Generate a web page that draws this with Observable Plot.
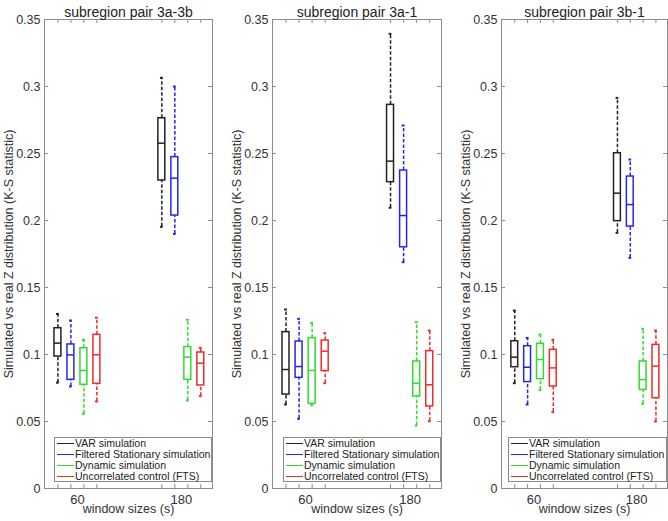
<!DOCTYPE html>
<html>
<head>
<meta charset="utf-8">
<script src="https://cdn.jsdelivr.net/npm/d3@7"></script>
<script src="https://cdn.jsdelivr.net/npm/@observablehq/plot@0.6"></script>
<style>
  html, body { margin: 0; padding: 0; background: #fff; }
  #row { display: flex; width: 668px; height: 521px; }
  .panel { position: relative; height: 521px; }
  .legend {
    position: absolute; box-sizing: border-box; height: 45px;
    border: 1px solid #8a8a8a; background: #fff;
    font-family: "Liberation Sans", Arial, sans-serif; font-size: 10.5px; color: #222;
    padding-top: 0px;
  }
  .legend .item { height: 10.9px; line-height: 10.9px; white-space: nowrap; display: flex; align-items: center; }
  .legend .sw { display: inline-block; width: 17px; height: 0; border-top: 1.5px solid; margin: 0 1px 0 2px; }
</style>
</head>
<body>
<div id="row"></div>
<script>
// ---- data ----
const windowSizes = [60, 180];
const seriesNames = ["VAR simulation", "Filtered Stationary simulation", "Dynamic simulation", "Uncorrelated control (FTS)"];
const seriesColors = ["#222222", "#2626e8", "#30dc30", "#ee2c2c"];
const panelTitles = ["subregion pair 3a-3b", "subregion pair 3a-1", "subregion pair 3b-1"];
const yTicks = [0, 0.05, 0.1, 0.15, 0.2, 0.25, 0.3, 0.35];
const yLabel = "Simulated vs real Z distribution (K-S statistic)";
const xLabel = "window sizes (s)";

// rows: [series index, window size, lower whisker, q1, median, q3, upper whisker]
const pair3a3b = [
  [0, 60, 0.0790, 0.0985, 0.1085, 0.1196, 0.1303],
  [1, 60, 0.0761, 0.0811, 0.0997, 0.1075, 0.1254],
  [2, 60, 0.0557, 0.0774, 0.0881, 0.1047, 0.1110],
  [3, 60, 0.0649, 0.0781, 0.0998, 0.1147, 0.1274],
  [0, 180, 0.1953, 0.2299, 0.2577, 0.2763, 0.3065],
  [1, 180, 0.1900, 0.2037, 0.2316, 0.2473, 0.3000],
  [2, 180, 0.0657, 0.0811, 0.0980, 0.1055, 0.1259],
  [3, 180, 0.0689, 0.0769, 0.0935, 0.1015, 0.1050]
];
const pair3a1 = [
  [0, 60, 0.0627, 0.0701, 0.0888, 0.1167, 0.1336],
  [1, 60, 0.0520, 0.0826, 0.0910, 0.1097, 0.1266],
  [2, 60, 0.0622, 0.0632, 0.0881, 0.1122, 0.1236],
  [3, 60, 0.0786, 0.0876, 0.1025, 0.1104, 0.1159],
  [0, 180, 0.2095, 0.2286, 0.2443, 0.2863, 0.3393],
  [1, 180, 0.1689, 0.1800, 0.2037, 0.2373, 0.2709],
  [2, 180, 0.0470, 0.0687, 0.0786, 0.0948, 0.1241],
  [3, 180, 0.0502, 0.0612, 0.0774, 0.1025, 0.1179]
];
const pair3b1 = [
  [0, 60, 0.0786, 0.0905, 0.0980, 0.1099, 0.1328],
  [1, 60, 0.0627, 0.0794, 0.0905, 0.1062, 0.1124],
  [2, 60, 0.0736, 0.0816, 0.0963, 0.1080, 0.1149],
  [3, 60, 0.0570, 0.0761, 0.0900, 0.1035, 0.1110],
  [0, 180, 0.1908, 0.1995, 0.2204, 0.2502, 0.2915],
  [1, 180, 0.1721, 0.1955, 0.2119, 0.2328, 0.2455],
  [2, 180, 0.0632, 0.0736, 0.0813, 0.0948, 0.1192],
  [3, 180, 0.0500, 0.0674, 0.0913, 0.1072, 0.1179]
];
const panelData = [pair3a3b, pair3a1, pair3b1];

// ---- layout ----
const layouts = [
  {width: 228, marginLeft: 44, marginRight: 16, legendLeft: 54},
  {width: 228, marginLeft: 44, marginRight: 15, legendLeft: 55},
  {width: 212, marginLeft: 45, marginRight: 1, legendLeft: 52}
];
const marginTop = 19, marginBottom = 33, H = 521;
const xDomain = [22, 216];
const groupStep = 15;      // spacing between boxes within a group (s)
const boxHalf = 4;         // half box width (s)
const capHalf = 1.6;       // half whisker-cap width (s)
const font = "'Liberation Sans', Arial, Helvetica, sans-serif";

const row = document.getElementById("row");

panelData.forEach((raw, pi) => {
  const L = layouts[pi];
  const fw = L.width - L.marginLeft - L.marginRight;
  const fh = H - marginTop - marginBottom;
  const rows = raw.map(([s, w, lo, q1, med, q3, hi]) => ({
    series: seriesNames[s], pos: w + (s - 1.5) * groupStep, lo, q1, med, q3, hi
  }));
  const tickPositions = rows.map(d => d.pos);
  const common = {stroke: "series", strokeWidth: 1.5};

  const chart = Plot.plot({
    width: L.width, height: H,
    marginLeft: L.marginLeft, marginRight: L.marginRight,
    marginTop, marginBottom,
    style: {fontFamily: font, fontSize: "12px", color: "#333", background: "#fff"},
    x: {type: "linear", domain: xDomain, axis: null},
    y: {domain: [0, 0.35], axis: null},
    color: {domain: seriesNames, range: seriesColors},
    marks: [
      Plot.frame({stroke: "#8c8c8c"}),
      // inward ticks
      Plot.tickY(yTicks, {y: d => d, insetRight: fw - 4, stroke: "#8c8c8c"}),
      Plot.tickY(yTicks, {y: d => d, insetLeft: fw - 4, stroke: "#8c8c8c"}),
      Plot.tickX(tickPositions, {x: d => d, insetBottom: fh - 4, stroke: "#8c8c8c"}),
      Plot.tickX(tickPositions, {x: d => d, insetTop: fh - 4, stroke: "#8c8c8c"}),
      // tick labels
      Plot.axisY(yTicks, {tickSize: 0, tickPadding: 4, fontSize: 12.5, fill: "#333",
        tickFormat: d => String(d), label: null}),
      Plot.axisX(windowSizes, {tickSize: 0, tickPadding: 6, fontSize: 13, fill: "#333",
        tickFormat: d => String(d), label: null}),
      // whiskers
      Plot.ruleX(rows, {x: "pos", y1: "lo", y2: "q1", ...common, strokeDasharray: "3.5,2"}),
      Plot.ruleX(rows, {x: "pos", y1: "q3", y2: "hi", ...common, strokeDasharray: "3.5,2"}),
      Plot.ruleY(rows, {y: "lo", x1: d => d.pos - capHalf, x2: d => d.pos + capHalf, stroke: "series", strokeWidth: 2}),
      Plot.ruleY(rows, {y: "hi", x1: d => d.pos - capHalf, x2: d => d.pos + capHalf, stroke: "series", strokeWidth: 2}),
      // boxes
      Plot.rect(rows, {x1: d => d.pos - boxHalf, x2: d => d.pos + boxHalf, y1: "q1", y2: "q3", ...common, fill: "none"}),
      Plot.ruleY(rows, {y: "med", x1: d => d.pos - boxHalf, x2: d => d.pos + boxHalf, ...common}),
      // texts
      Plot.text([panelTitles[pi]], {frameAnchor: "top", dy: -12, fontSize: 14, fill: "#222"}),
      Plot.text([xLabel], {frameAnchor: "bottom", dy: 24, fontSize: 12.5, fill: "#333"}),
      Plot.text([yLabel], {frameAnchor: "left", textAnchor: "middle", rotate: -90, dx: -36, fontSize: 12.5, fill: "#333"})
    ]
  });

  const panel = document.createElement("div");
  panel.className = "panel";
  panel.style.width = L.width + "px";
  panel.appendChild(chart);

  const legend = document.createElement("div");
  legend.className = "legend";
  legend.style.left = L.legendLeft + "px";
  legend.style.top = "437px";
  legend.style.width = (L.width - L.marginRight - L.legendLeft) + "px";
  seriesNames.forEach((name, i) => {
    const item = document.createElement("div");
    item.className = "item";
    const sw = document.createElement("span");
    sw.className = "sw";
    sw.style.borderTopColor = seriesColors[i];
    const tx = document.createElement("span");
    tx.textContent = name;
    item.appendChild(sw);
    item.appendChild(tx);
    legend.appendChild(item);
  });
  panel.appendChild(legend);
  row.appendChild(panel);
});
</script>
</body>
</html>
